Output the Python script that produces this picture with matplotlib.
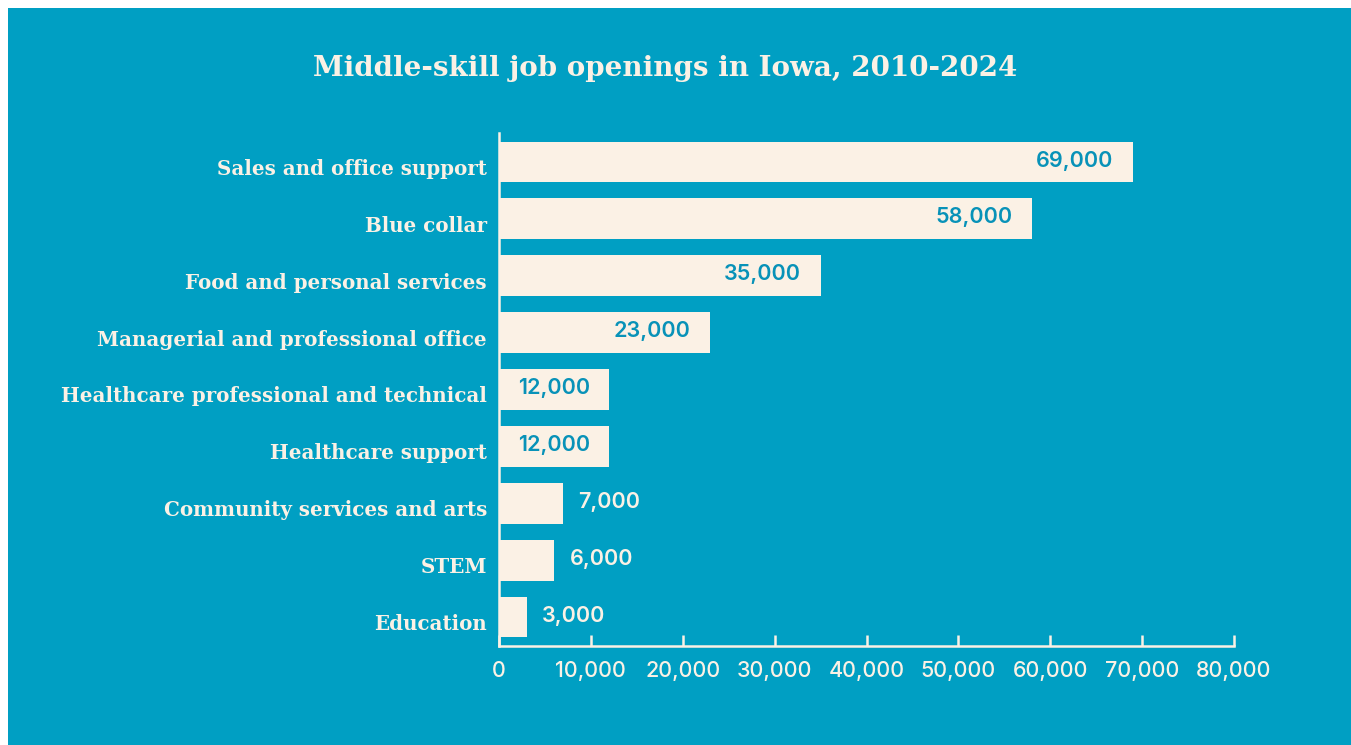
import matplotlib
matplotlib.use("Agg")
import matplotlib.pyplot as plt
from matplotlib.patches import Rectangle
from matplotlib.ticker import FuncFormatter
from matplotlib.transforms import ScaledTranslation

# Data
categories = [
    "Sales and office support",
    "Blue collar",
    "Food and personal services",
    "Managerial and professional office",
    "Healthcare professional and technical",
    "Healthcare support",
    "Community services and arts",
    "STEM",
    "Education",
]
openings = [69000, 58000, 35000, 23000, 12000, 12000, 7000, 6000, 3000]
x_ticks = [0, 10000, 20000, 30000, 40000, 50000, 60000, 70000, 80000]
title = "Middle-skill job openings in Iowa, 2010-2024"

TEAL = "#009fc3"
CREAM = "#fbf1e5"
LABEL_IN = "#0892b8"
SLAB = ["DejaVu Serif"]
SANS = ["Inter", "Open Sans", "DejaVu Sans"]

W, H = 1351, 745
fig = plt.figure(figsize=(W / 100, H / 100), dpi=100, facecolor=TEAL)
# thin white margin along the top and left edges
fig.patches.append(Rectangle((0, 1 - 8 / H), 1, 8 / H, transform=fig.transFigure,
                             facecolor="white", edgecolor="none", zorder=-1))
fig.patches.append(Rectangle((0, 0), 8 / W, 1, transform=fig.transFigure,
                             facecolor="white", edgecolor="none", zorder=-1))

ax = fig.add_axes([499 / W, 99 / H, (1234 - 499) / W, (646 - 133) / H])
ax.set_facecolor("none")

n = len(categories)
ypos = list(range(n - 1, -1, -1))
ax.barh(ypos, openings, height=0.72, color=CREAM, zorder=2)

ax.set_xlim(0, 80000)
ax.set_ylim(-0.51, n - 1 + 0.51)

# category names sit just left of the axis, slightly below each bar's centre
ax.set_yticks([])
cat_tf = ax.get_yaxis_transform() + ScaledTranslation(-12 / 100, -5 / 100, fig.dpi_scale_trans)
for y, name in zip(ypos, categories):
    ax.text(0, y, name, transform=cat_tf, ha="right", va="center_baseline",
            color=CREAM, fontsize=14.3, fontweight="bold", fontfamily=SLAB)

ax.set_xticks(x_ticks)
ax.xaxis.set_major_formatter(FuncFormatter(lambda v, p: f"{int(v):,}"))
for lbl in ax.get_xticklabels():
    lbl.set_fontfamily(SANS)
    lbl.set_fontsize(15.5)
    lbl.set_fontweight("medium")
    lbl.set_color(CREAM)
ax.tick_params(axis="x", direction="in", length=8, width=1.8, color=CREAM, pad=11)

for side in ("top", "right"):
    ax.spines[side].set_visible(False)
for side in ("left", "bottom"):
    ax.spines[side].set_color(CREAM)
    ax.spines[side].set_linewidth(1.8)

# value labels: inside the bar when it is wide enough, otherwise just past its end
for y, v in zip(ypos, openings):
    if v >= 10000:
        ax.annotate(f"{v:,}", (v, y), xytext=(-14, 1), textcoords="offset points",
                    ha="right", va="center", color=LABEL_IN, fontsize=15.5,
                    fontfamily=SANS, fontweight="semibold", zorder=3)
    else:
        ax.annotate(f"{v:,}", (v, y), xytext=(11, 1), textcoords="offset points",
                    ha="left", va="center", color=CREAM, fontsize=15.5,
                    fontfamily=SANS, fontweight="semibold", zorder=3)

fig.text(665 / W, 1 - 68 / H, title, ha="center", va="center", color=CREAM,
         fontsize=20, fontweight="bold", fontfamily=SLAB)

fig.savefig("out.png", dpi=100, facecolor=fig.get_facecolor())
